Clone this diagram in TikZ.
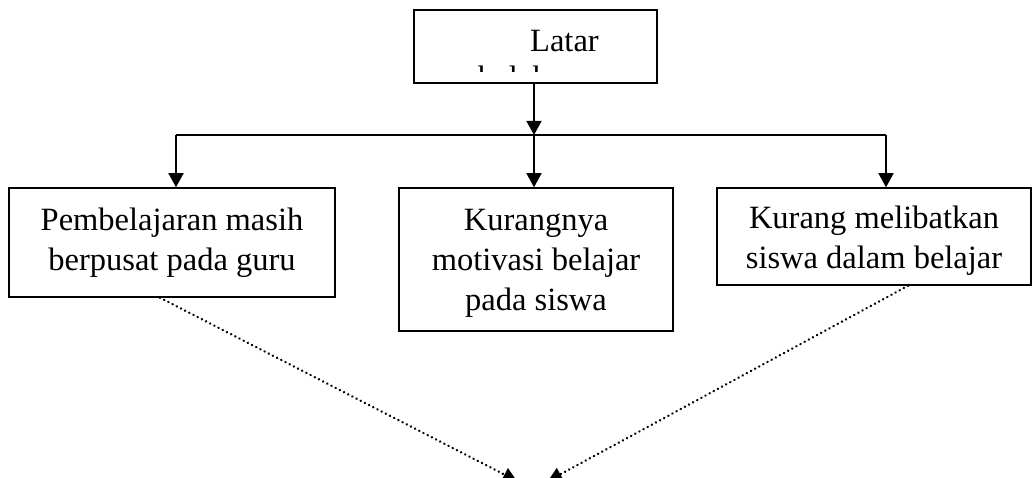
\documentclass[tikz,border=0pt]{standalone}
\usepackage{fontspec}
\setmainfont{Liberation Serif}
\usetikzlibrary{arrows.meta}
\begin{document}
\begin{tikzpicture}[x=1pt,y=-1pt,
  box/.style={draw,line width=1.5pt,inner sep=0pt},
  lbl/.style={inner sep=0pt,align=center,font=\fontsize{32.5}{40}\selectfont},
  arr/.style={line width=1.5pt,-{Triangle[length=14pt,width=15pt]}},
  dotarr/.style={line width=2.6pt,line cap=round,dash pattern=on 0.1pt off 4.6pt,
    -{Triangle[length=14pt,width=14pt]}},
  conn/.style={line width=1.5pt}]
\useasboundingbox (0,0) rectangle (1032,478);
\clip (0,0) rectangle (1032,478);
% top box
\node[box,minimum width=243pt,minimum height=73pt] (top) at (535.5,46.5) {};
\node[lbl,anchor=base west] (t1) at (530,52) {Latar};
\begin{scope}
\clip (415,11) rectangle (540,72);
\node[lbl,anchor=base west] (t2) at (478,89) {belakang};
\end{scope}
% lower boxes
\node[box,minimum width=326pt,minimum height=109pt] (lb) at (172,242.5) {};
\node[lbl] (lbt) at (lb.center) {Pembelajaran masih\\berpusat pada guru};
\node[box,minimum width=274pt,minimum height=143pt] (mb) at (536,259.5) {};
\node[lbl] (mbt) at ([yshift=-4pt]mb.center) {Kurangnya\\motivasi belajar\\pada siswa};
\node[box,minimum width=314pt,minimum height=97pt] (rb) at (874,236.5) {};
\node[lbl] (rbt) at ([yshift=-4pt]rb.center) {Kurang melibatkan\\siswa dalam belajar};
% tree connectors
\coordinate (jm) at (534,135);
\coordinate (jl) at (176,135);
\coordinate (jr) at (886,135);
\draw[arr] (top.south -| jm) -- (jm);
\draw[conn] (jl) -- (jr);
\draw[arr] (jl) -- (jl |- lb.north);
\draw[arr] (jm) -- (jm |- mb.north);
\draw[arr] (jr) -- (jr |- rb.north);
% dotted converging arrows
\path (lb.south) ++(-12,0) coordinate (s1);
\path (rb.south) ++(34,0) coordinate (s2);
\coordinate (e1) at (517,481);
\coordinate (e2) at (548,481);
\draw[dotarr] (s1) -- (e1);
\draw[dotarr] (s2) -- (e2);
\end{tikzpicture}
\end{document}
